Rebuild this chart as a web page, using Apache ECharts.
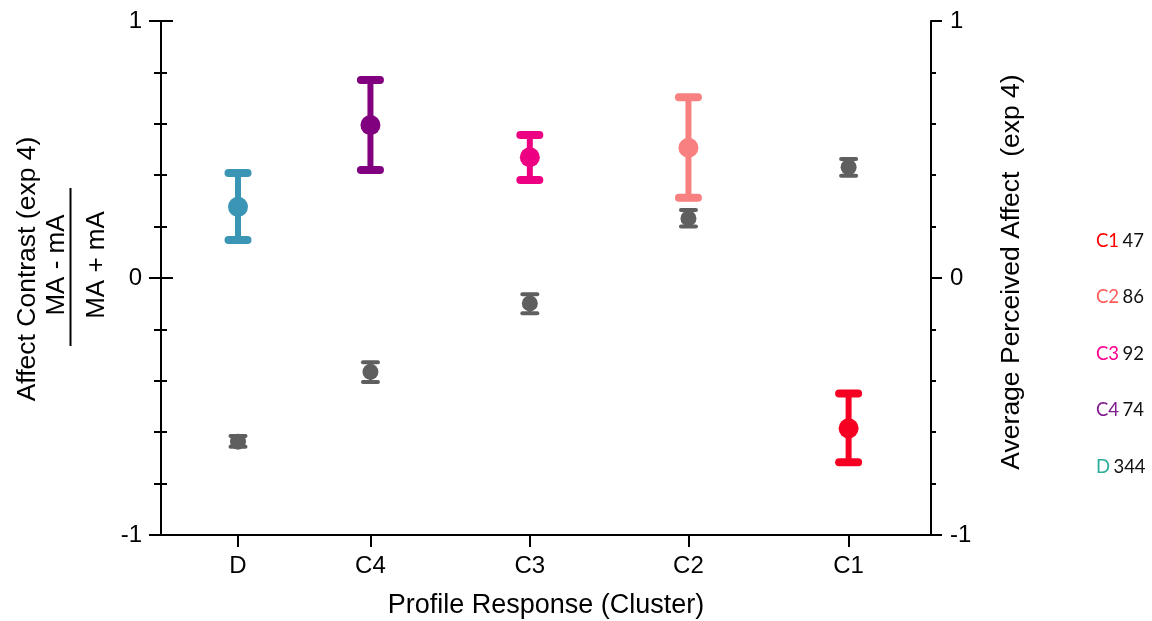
<!DOCTYPE html>
<html>
<head>
<meta charset="utf-8">
<script src="https://cdn.jsdelivr.net/npm/echarts@6/dist/echarts.min.js"></script>
<style>
  html, body { margin: 0; padding: 0; background: #fff; }
  #chart { width: 1152px; height: 621px; }
</style>
</head>
<body>
<div id="chart"></div>
<script>
// categories and where they sit along the (unevenly spaced) x axis
const categories = ['D', 'C4', 'C3', 'C2', 'C1'];
const xPositions = [1.0, 2.72, 4.79, 6.85, 8.93];

// coloured markers: affect contrast (mean, lower, upper)
const contrastMean = [0.277, 0.595, 0.470, 0.507, -0.585];
const contrastLow = [0.148, 0.420, 0.381, 0.312, -0.717];
const contrastHigh = [0.409, 0.770, 0.556, 0.703, -0.449];

// grey markers: average perceived affect (mean, lower, upper)
const perceivedMean = [-0.637, -0.365, -0.099, 0.232, 0.431];
const perceivedLow = [-0.657, -0.405, -0.137, 0.200, 0.398];
const perceivedHigh = [-0.615, -0.328, -0.063, 0.265, 0.463];

const yTickLabels = [-1, 0, 1];

// counts shown at the right
const legendNames = ['C1', 'C2', 'C3', 'C4', 'D'];
const legendCounts = [47, 86, 92, 74, 344];

const clusterColors = ['#3A96B4', '#80007F', '#EE0082', '#F98080', '#F50022'];
const legendColors = ['#FF0000', '#FF5C5C', '#FF0090', '#7F1A8C', '#2DAE9A'];
const grey = '#5F5F5F';

const FONT = '"Liberation Sans", Arial, sans-serif';

function errorBar(colorFor, sz) {
  return function (params, api) {
    const x = api.value(0);
    const pm = api.coord([x, api.value(1)]);
    const pl = api.coord([x, api.value(2)]);
    const ph = api.coord([x, api.value(3)]);
    const c = colorFor(params.dataIndex);
    const half = sz.cap;
    const lineStyle = { stroke: c, lineWidth: sz.stem, lineCap: 'butt' };
    const capStyle = { stroke: c, lineWidth: sz.capW, lineCap: 'round' };
    return {
      type: 'group',
      children: [
        { type: 'line', shape: { x1: pm[0], y1: ph[1], x2: pm[0], y2: pl[1] }, style: lineStyle },
        { type: 'line', shape: { x1: pm[0] - half, y1: ph[1], x2: pm[0] + half, y2: ph[1] }, style: capStyle },
        { type: 'line', shape: { x1: pm[0] - half, y1: pl[1], x2: pm[0] + half, y2: pl[1] }, style: capStyle },
        { type: 'circle', shape: { cx: pm[0], cy: pm[1], r: sz.r }, style: { fill: c } }
      ]
    };
  };
}

const contrastData = categories.map((_, i) => [xPositions[i], contrastMean[i], contrastLow[i], contrastHigh[i]]);
const perceivedData = categories.map((_, i) => [xPositions[i], perceivedMean[i], perceivedLow[i], perceivedHigh[i]]);

const chart = echarts.init(document.getElementById('chart'));

const baseY = {
  type: 'value', min: -1, max: 1, interval: 1,
  splitLine: { show: false },
  axisLine: { show: true, onZero: false, lineStyle: { color: '#000', width: 2 } },
  minorTick: { show: true, splitNumber: 5, lineStyle: { color: '#000', width: 2 } },
  axisTick: { show: true, length: 12, lineStyle: { color: '#000', width: 2 } },
  axisLabel: { show: true, fontFamily: FONT, fontSize: 24, color: '#000', margin: 18 }
};

chart.setOption({
  animation: false,
  grid: { left: 161, right: 221, top: 21, bottom: 86, containLabel: false, outerBoundsMode: 'none' },
  xAxis: {
    type: 'value', min: 0, max: 10,
    splitLine: { show: false },
    axisLine: { show: true, onZero: false, lineStyle: { color: '#000', width: 2 } },
    axisTick: { show: true, length: 12, customValues: xPositions, lineStyle: { color: '#000', width: 2 } },
    axisLabel: {
      customValues: xPositions, fontFamily: FONT, fontSize: 24, color: '#000', margin: 19,
      formatter: (v) => categories[xPositions.indexOf(v)] || ''
    },
    name: 'Profile Response (Cluster)', nameLocation: 'middle', nameGap: 57,
    nameTextStyle: { fontFamily: FONT, fontSize: 27, color: '#000' }
  },
  yAxis: [
    Object.assign({}, baseY, {
      position: 'left',
      axisTick: { show: true, length: 12, inside: false, lineStyle: { color: '#000', width: 2 } },
      minorTick: { show: true, splitNumber: 5, length: 7, lineStyle: { color: '#000', width: 2 } },
      axisLabel: Object.assign({}, baseY.axisLabel, { customValues: yTickLabels, margin: 19 })
    }),
    Object.assign({}, baseY, {
      position: 'left',
      axisTick: { show: true, length: 12, inside: true, lineStyle: { color: '#000', width: 2 } },
      minorTick: { show: true, splitNumber: 5, length: 6, lineStyle: { color: '#000', width: 2 } },
      axisLabel: { show: false }
    }),
    Object.assign({}, baseY, {
      position: 'right',
      axisTick: { show: true, length: 11, inside: false, lineStyle: { color: '#000', width: 2 } },
      minorTick: { show: true, splitNumber: 5, length: 5, lineStyle: { color: '#000', width: 2 } },
      axisLabel: Object.assign({}, baseY.axisLabel, { customValues: yTickLabels, margin: 19 })
    })
  ],
  graphic: [
    { type: 'text', x: 28, y: 269, rotation: Math.PI / 2,
      style: { text: 'Affect Contrast (exp 4)', font: '26.5px ' + FONT, fill: '#000', align: 'center', verticalAlign: 'middle' } },
    { type: 'text', x: 57, y: 265, rotation: Math.PI / 2,
      style: { text: 'MA - mA', font: '26px ' + FONT, fill: '#000', align: 'center', verticalAlign: 'middle' } },
    { type: 'line', shape: { x1: 70.5, y1: 188, x2: 70.5, y2: 346 }, style: { stroke: '#000', lineWidth: 2 } },
    { type: 'text', x: 97, y: 265, rotation: Math.PI / 2,
      style: { text: 'MA + mA', font: '26px ' + FONT, fill: '#000', align: 'center', verticalAlign: 'middle' } },
    { type: 'text', x: 1012, y: 272, rotation: Math.PI / 2,
      style: { text: 'Average Perceived Affect  (exp 4)', font: '26.5px ' + FONT, fill: '#000', align: 'center', verticalAlign: 'middle' } }
  ].concat(legendNames.map((n, i) => ({
    type: 'text', x: 1096, y: 241 + i * 56.5,
    style: {
      text: '{c|' + n + '} {n|' + legendCounts[i] + '}',
      rich: {
        c: { fontFamily: 'Lato', fontSize: 18.5, fill: legendColors[i], color: legendColors[i] },
        n: { fontFamily: 'Lato', fontSize: 18.5, fill: '#111', color: '#111' }
      },
      verticalAlign: 'middle'
    }
  }))),
  series: [
    {
      type: 'custom', yAxisIndex: 0, clip: false,
      renderItem: errorBar((i) => clusterColors[i], { stem: 6, cap: 9.5, capW: 8, r: 10 }),
      data: contrastData, z: 3
    },
    {
      type: 'custom', yAxisIndex: 0, clip: false,
      renderItem: errorBar(() => grey, { stem: 3, cap: 7.5, capW: 4, r: 8 }),
      data: perceivedData, z: 4
    }
  ]
});
</script>
</body>
</html>
